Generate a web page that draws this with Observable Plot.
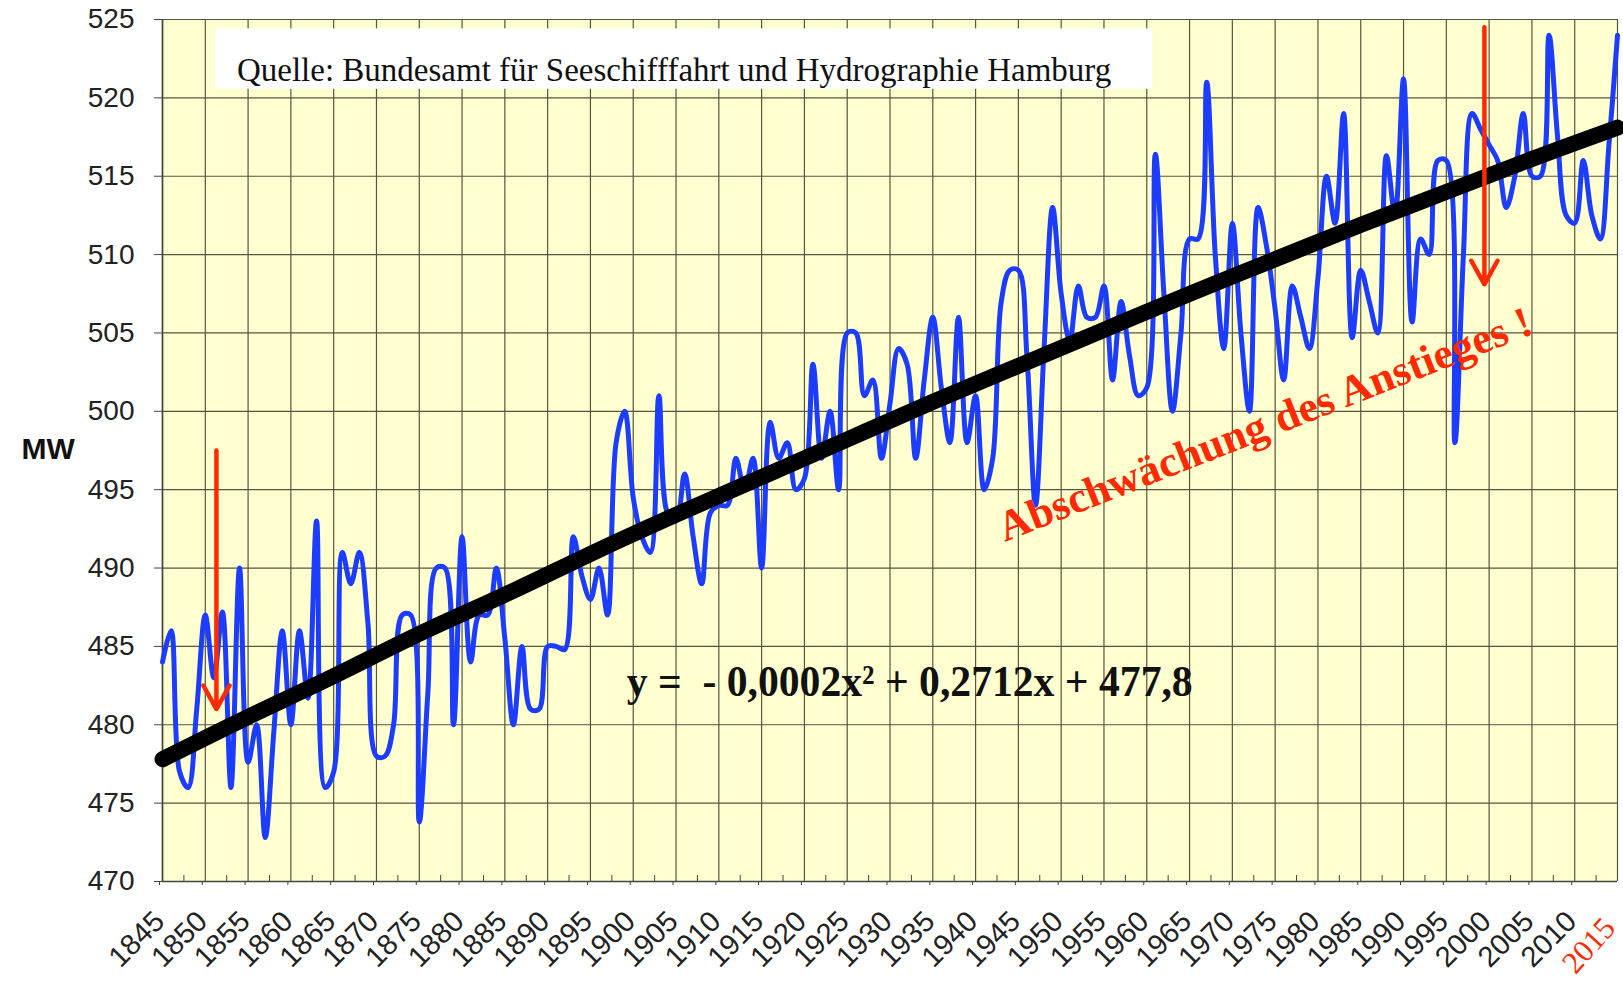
<!DOCTYPE html>
<html>
<head>
<meta charset="utf-8">
<script src="https://cdn.jsdelivr.net/npm/d3@7"></script>
<script src="https://cdn.jsdelivr.net/npm/@observablehq/plot@0.6"></script>
<style>
  html, body { margin: 0; padding: 0; background: #ffffff; }
  #chart svg { display: block; }
</style>
</head>
<body>
<div id="chart"></div>
<script>
// ---------- data ----------
const firstYear = 1845;
const mwValues = [
  484, 486, 477, 476, 481,
  487, 483, 487.2, 476, 490, 477.6, 480, 472.8, 479.5, 486,
  480, 486, 481.7, 493, 476, 477, 491, 489, 491, 486.5,
  478, 478, 480, 487, 487, 473.8, 482, 490, 490, 480,
  492, 484, 487, 487, 490, 485.5, 480, 485, 481, 481,
  485, 485, 484.8, 492, 489.5, 488, 490, 487, 498, 500,
  494.5, 492, 491, 501, 493.5, 493, 496, 492, 489, 493.5,
  494, 494, 497, 495, 497, 490, 499.3, 497, 498, 495,
  495.7, 503, 497, 500, 495, 505, 505, 501, 502, 497,
  500.5, 504, 503, 497, 502, 506, 501.5, 498, 506, 498,
  501, 495, 497, 507, 509, 509, 503.5, 494, 504, 513,
  507.5, 504.5, 508, 506, 506, 508, 502, 507, 503.5, 501,
  501.5, 516.4, 507.5, 500, 505, 511, 511, 521, 510, 504,
  512, 505, 500, 513, 510.5, 506.5, 502, 508, 506, 504,
  508.5, 515, 512, 519, 504.7, 509, 507, 505, 516.3, 512.5,
  521.2, 505.7, 511, 510, 516, 516, 498, 510, 519, 518,
  517, 516, 513, 515, 519, 515, 515, 524, 517.5, 512.5,
  512, 516, 512.5, 511, 517, 524
];
const trendYears  = [1845, 1855, 1865, 1875, 1885, 1895, 1905, 1915, 1925, 1935, 1945, 1955, 1965, 1975, 1985, 1995, 2005, 2015];
const trendValues = [477.8, 480.5, 483.1, 485.8, 488.3, 490.9, 493.4, 495.8, 498.2, 500.6, 502.9, 505.2, 507.5, 509.7, 511.9, 514.0, 516.1, 518.1];
const yTicks = [470, 475, 480, 485, 490, 495, 500, 505, 510, 515, 520, 525];
const gridYears = [1845,1850,1855,1860,1865,1870,1875,1880,1885,1890,1895,1900,1905,1910,1915,1920,1925,1930,1935,1940,1945,1950,1955,1960,1965,1970,1975,1980,1985,1990,1995,2000,2005,2010,2015];
const labelYears = [1845,1850,1855,1860,1865,1870,1875,1880,1885,1890,1895,1900,1905,1910,1915,1920,1925,1930,1935,1940,1945,1950,1955,1960,1965,1970,1975,1980,1985,1990,1995,2000,2005,2010];
const minorYears = [1847.5,1852.5,1857.5,1862.5,1867.5,1872.5,1877.5,1882.5,1887.5,1892.5,1897.5,1902.5,1907.5,1912.5,1917.5,1922.5,1927.5,1932.5,1937.5,1942.5,1947.5,1952.5,1957.5,1962.5,1967.5,1972.5,1977.5,1982.5,1987.5,1992.5,1997.5,2002.5,2007.5,2012.5];
const lastLabel = "2015";
const yLabel = "MW";
const sourceText = "Quelle: Bundesamt für Seeschifffahrt und Hydrographie Hamburg";
const equationText = "y =  - 0,0002x² + 0,2712x + 477,8";
const noteText = "Abschwächung des Anstieges !";

// annotation anchors (data space)
const sourceBox = [{x1: 1851.2, x2: 1960.7, y1: 520.55, y2: 524.4}];
const sourcePos = [{x: 1853.7, y: 521.72, t: sourceText}];
const equationPos = [{x: 1932.3, y: 482.73, t: equationText}];
const notePos = [{x: 1973.8, y: 499.15, t: noteText}];
const arrows = [
  {x: 1851.3, y1: 497.5, y2: 481.0},
  {x: 1999.45, y1: 524.5, y2: 508.1}
];

const series = mwValues.map((v, i) => ({year: firstYear + i, mw: v}));
const trend = trendYears.map((yr, i) => ({year: yr, mw: trendValues[i]}));

const gridColor = "#555543";
const axisColor = "#454540";
const blue = "#1c3cff";
const red = "#ff2a00";
const serif = "'Liberation Serif', 'Times New Roman', Times, serif";

const chart = Plot.plot({
  width: 1623,
  height: 990,
  marginLeft: 162,
  marginRight: 6,
  marginTop: 19,
  marginBottom: 109,
  style: {
    fontFamily: "'Liberation Sans', Arial, Helvetica, sans-serif",
    fontSize: "28px",
    color: "#222",
    background: "#ffffff",
    overflow: "visible"
  },
  x: {domain: [1845, 2015]},
  y: {domain: [470, 525]},
  marks: [
    Plot.frame({fill: "#ffffcf", stroke: null}),
    Plot.ruleX(gridYears, {stroke: gridColor, strokeWidth: 1.2}),
    Plot.ruleY(yTicks, {stroke: gridColor, strokeWidth: 1.2}),
    Plot.rect(sourceBox, {x1: "x1", x2: "x2", y1: "y1", y2: "y2", fill: "#ffffff"}),
    Plot.text(sourcePos, {x: "x", y: "y", text: "t", textAnchor: "start", fontFamily: serif, fontSize: 33, fill: "#111"}),
    Plot.axisY({ticks: yTicks, tickSize: 8, tickPadding: 20, tickFormat: d => String(d), label: null, stroke: axisColor, fill: "#222"}),
    Plot.axisX({ticks: labelYears, tickSize: 4, tickPadding: 31, dx: -3, tickRotate: -45, lineAnchor: "middle", fontSize: 29, tickFormat: d => String(d), label: null, stroke: axisColor, fill: "#222"}),
    Plot.axisX({ticks: minorYears, tickSize: -6, tickFormat: () => "", label: null, stroke: axisColor}),
    Plot.ruleX([1845], {stroke: axisColor, strokeWidth: 1.6}),
    Plot.ruleY([470], {stroke: axisColor, strokeWidth: 1.6}),
    Plot.line(series, {x: "year", y: "mw", curve: "catmull-rom", stroke: blue, strokeWidth: 5, strokeLinejoin: "round"}),
    Plot.line(trend, {x: "year", y: "mw", curve: "natural", stroke: "#000", strokeWidth: 16}),
    Plot.arrow(arrows, {x1: "x", x2: "x", y1: "y1", y2: "y2", stroke: red, strokeWidth: 4.5, headLength: 9, headAngle: 58}),
    Plot.text(equationPos, {x: "x", y: "y", text: "t", fontFamily: serif, fontWeight: "bold", fontSize: 45, fill: "#111"}),
    Plot.text(notePos, {x: "x", y: "y", text: "t", rotate: -21.5, fontFamily: serif, fontWeight: "bold", fontSize: 43, fill: red}),
    Plot.text([{x: 2015, y: 470, t: lastLabel}], {x: "x", y: "y", text: "t", rotate: -48, textAnchor: "end", dx: -8, dy: 41, fontFamily: serif, fontSize: 31, fill: red}),
    Plot.text([{y: 497.56, t: yLabel}], {y: "y", text: "t", frameAnchor: "left", dx: -141, textAnchor: "start", fontWeight: "bold", fontSize: 30, fill: "#111"})
  ]
});

document.getElementById("chart").appendChild(chart);

// fit the long annotations to the widths measured in the picture
chart.querySelectorAll("text").forEach(el => {
  if (el.textContent === equationText) {
    el.setAttribute("textLength", 566);
    el.setAttribute("lengthAdjust", "spacingAndGlyphs");
  } else if (el.textContent === noteText) {
    el.setAttribute("textLength", 570);
    el.setAttribute("lengthAdjust", "spacingAndGlyphs");
  }
});
</script>
</body>
</html>
